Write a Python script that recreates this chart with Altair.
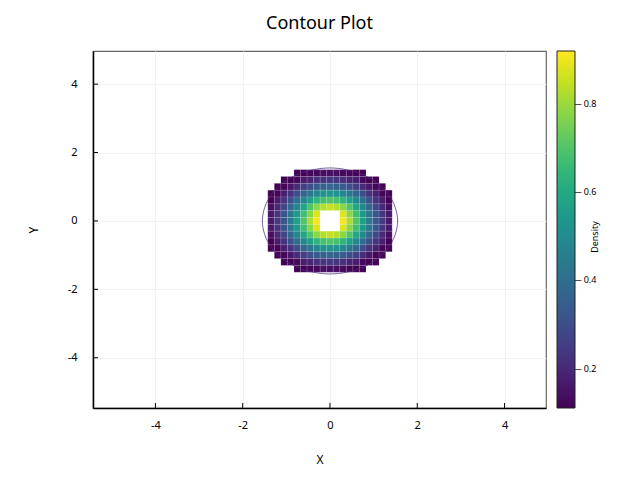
import altair as alt
import pandas as pd

# ---------------- data ----------------
chart_title = "Contour Plot"
x_title = "X"
y_title = "Y"
colorbar_title = ["Density"]

axis_ticks = [-4, -2, 0, 2, 4]
colorbar_ticks = [0.2, 0.4, 0.6, 0.8]
colorbar_range = [0.111, 0.92]

# cell centres of the density grid
x_centers = [-1.35, -1.2, -1.05, -0.9, -0.75, -0.6, -0.45, -0.3, -0.15, 0.0,
             0.15, 0.3, 0.45, 0.6, 0.75, 0.9, 1.05, 1.2, 1.35]
y_centers = [1.4, 1.2, 1.0, 0.8, 0.6, 0.4, 0.2, 0.0,
             -0.2, -0.4, -0.6, -0.8, -1.0, -1.2, -1.4]

N = None
density = [
    [N, N, N, N, 0.08, 0.10, 0.12, 0.13, 0.14, 0.14, 0.14, 0.13, 0.12, 0.10, 0.08, N, N, N, N],
    [N, N, 0.08, 0.11, 0.13, 0.17, 0.19, 0.22, 0.23, 0.24, 0.23, 0.22, 0.19, 0.17, 0.13, 0.11, 0.08, N, N],
    [N, 0.09, 0.12, 0.16, 0.21, 0.26, 0.30, 0.34, 0.36, 0.37, 0.36, 0.34, 0.30, 0.26, 0.21, 0.16, 0.12, 0.09, N],
    [0.09, 0.12, 0.18, 0.23, 0.30, 0.37, 0.43, 0.48, 0.52, 0.53, 0.52, 0.48, 0.43, 0.37, 0.30, 0.23, 0.18, 0.12, 0.09],
    [0.11, 0.17, 0.23, 0.31, 0.40, 0.49, 0.57, 0.64, 0.68, 0.70, 0.68, 0.64, 0.57, 0.49, 0.40, 0.31, 0.23, 0.17, 0.11],
    [0.14, 0.20, 0.28, 0.38, 0.49, 0.59, 0.70, 0.78, 0.83, 0.85, 0.83, 0.78, 0.70, 0.59, 0.49, 0.38, 0.28, 0.20, 0.14],
    [0.16, 0.23, 0.32, 0.43, 0.55, 0.67, 0.78, 0.88, 0.94, 0.96, 0.94, 0.88, 0.78, 0.67, 0.55, 0.43, 0.32, 0.23, 0.16],
    [0.16, 0.24, 0.33, 0.44, 0.57, 0.70, 0.82, 0.91, 0.98, 1.00, 0.98, 0.91, 0.82, 0.70, 0.57, 0.44, 0.33, 0.24, 0.16],
    [0.16, 0.23, 0.32, 0.43, 0.55, 0.67, 0.78, 0.88, 0.94, 0.96, 0.94, 0.88, 0.78, 0.67, 0.55, 0.43, 0.32, 0.23, 0.16],
    [0.14, 0.20, 0.28, 0.38, 0.49, 0.59, 0.70, 0.78, 0.83, 0.85, 0.83, 0.78, 0.70, 0.59, 0.49, 0.38, 0.28, 0.20, 0.14],
    [0.11, 0.17, 0.23, 0.31, 0.40, 0.49, 0.57, 0.64, 0.68, 0.70, 0.68, 0.64, 0.57, 0.49, 0.40, 0.31, 0.23, 0.17, 0.11],
    [0.09, 0.12, 0.18, 0.23, 0.30, 0.37, 0.43, 0.48, 0.52, 0.53, 0.52, 0.48, 0.43, 0.37, 0.30, 0.23, 0.18, 0.12, 0.09],
    [N, 0.09, 0.12, 0.16, 0.21, 0.26, 0.30, 0.34, 0.36, 0.37, 0.36, 0.34, 0.30, 0.26, 0.21, 0.16, 0.12, 0.09, N],
    [N, N, 0.08, 0.11, 0.13, 0.17, 0.19, 0.22, 0.23, 0.24, 0.23, 0.22, 0.19, 0.17, 0.13, 0.11, 0.08, N, N],
    [N, N, N, N, 0.08, 0.10, 0.12, 0.13, 0.14, 0.14, 0.14, 0.13, 0.12, 0.10, 0.08, N, N, N, N],
]

# outline contour points
contour_x = [1.55, 1.34, 0.78, 0.0, -0.78, -1.34, -1.55, -1.34, -0.78, 0.0, 0.78, 1.34]
contour_y = [0.0, 0.78, 1.34, 1.55, 1.34, 0.78, 0.0, -0.78, -1.34, -1.55, -1.34, -0.78]

# ---------------- build tables ----------------
HX, HY = 0.075, 0.1   # half cell size
cells = []
for yc, row in zip(y_centers, density):
    for xc, v in zip(x_centers, row):
        if v is not None:
            cells.append({"x0": xc - HX, "x1": xc + HX, "y0": yc - HY, "y1": yc + HY, "v": v})
cells = pd.DataFrame(cells)
contour_df = pd.DataFrame({"cx": contour_x, "cy": contour_y, "i": list(range(len(contour_x)))})
ticks_df = pd.DataFrame({"t": axis_ticks})
label_df = pd.DataFrame({"label": colorbar_title})

FONT = "Noto Sans"
W, H = 453, 357

xs = alt.Scale(domain=[-5.43, 4.95], nice=False, zero=False)
ys = alt.Scale(domain=[-5.47, 4.97], nice=False, zero=False)
x_axis = alt.Axis(values=axis_ticks, title=x_title, labelPadding=6, titlePadding=24,
                  labelExpr="datum.value + ''")
y_axis = alt.Axis(values=axis_ticks, title=y_title, labelPadding=11, titlePadding=27,
                  labelExpr="datum.value + ''")

color = alt.condition(
    "datum.v > 0.92",
    alt.value("white"),
    alt.Color(
        "v:Q",
        scale=alt.Scale(scheme="viridis", domain=colorbar_range, clamp=True),
        legend=alt.Legend(
            title=None, orient="none", legendX=W + 11, legendY=0,
            direction="vertical", gradientLength=H, gradientThickness=18,
            gradientStrokeColor="#222", gradientStrokeWidth=1,
            values=colorbar_ticks, labelExpr="'\u2500 ' + format(datum.value, '.1f')",
            labelFontSize=9, labelOffset=0, labelFont=FONT, labelColor="#000",
        ),
    ),
)

heat = alt.Chart(cells).mark_rect(stroke="white", strokeWidth=0.5, strokeOpacity=0.22).encode(
    x=alt.X("x0:Q", scale=xs, axis=x_axis),
    x2="x1:Q",
    y=alt.Y("y0:Q", scale=ys, axis=y_axis),
    y2="y1:Q",
    color=color,
)

outline = alt.Chart(contour_df).mark_line(
    interpolate="cardinal-closed", color="#4b2e83", strokeWidth=1, opacity=0.75
).encode(
    x=alt.X("cx:Q", scale=xs, axis=x_axis),
    y=alt.Y("cy:Q", scale=ys, axis=y_axis),
    order="i:Q",
)

xticks = alt.Chart(ticks_df).mark_rule(color="black", strokeWidth=1).encode(
    x=alt.X("t:Q", scale=xs, axis=x_axis),
    y=alt.value(H),
    y2=alt.value(H - 5),
)
yticks = alt.Chart(ticks_df).mark_rule(color="black", strokeWidth=1).encode(
    y=alt.Y("t:Q", scale=ys, axis=y_axis),
    x=alt.value(0),
    x2=alt.value(5),
)

cb_label = alt.Chart(label_df).mark_text(angle=270, fontSize=9, font=FONT, color="#000").encode(
    text="label:N",
    x=alt.value(W + 49),
    y=alt.value(186),
)

chart = alt.layer(heat, outline, xticks, yticks, cb_label).properties(
    width=W,
    height=H,
    autosize="none",
    padding={"left": 85, "top": 43, "right": 86, "bottom": 64},
    title=alt.TitleParams(chart_title, fontSize=18, font=FONT, fontWeight="normal",
                          anchor="middle", baseline="middle", offset=9, color="#000"),
).configure_view(
    stroke="#666", strokeWidth=1.2
).configure_axis(
    labelFont=FONT, titleFont=FONT, labelFontSize=11, titleFontSize=12,
    titleFontWeight="normal", labelColor="#000", titleColor="#000",
    domainColor="#000", domainWidth=1.5, tickSize=5, tickOpacity=0,
    gridColor="#f2f2f2", gridWidth=1,
)

chart.save("out.html", embed_options={"renderer": "svg", "actions": False})
